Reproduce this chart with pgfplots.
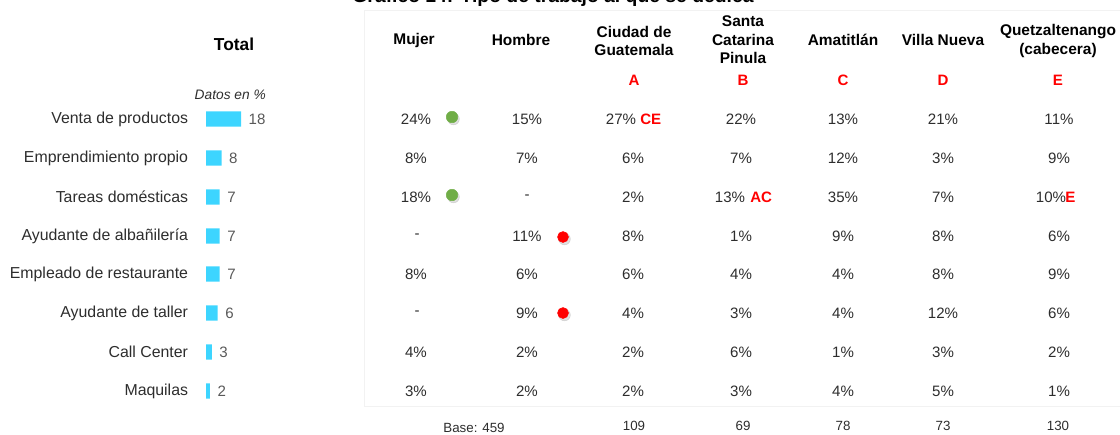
\documentclass[border=0pt]{standalone}
\usepackage{pgfplots}
\pgfplotsset{compat=1.18}
\usepackage{fontspec}
\setmainfont{Liberation Sans}
\definecolor{barc}{RGB}{61,213,255}
\definecolor{txt}{RGB}{45,45,45}
\definecolor{grn}{RGB}{112,173,71}
\definecolor{redc}{RGB}{255,0,0}
\newcommand{\vf}{\fontsize{11.3}{13}\selectfont}
\newcommand{\hf}{\bfseries\fontsize{11.6}{14}\selectfont}
\newcommand{\lf}{\bfseries\fontsize{11.3}{13}\selectfont}
\newcommand{\basef}{\fontsize{10}{12}\selectfont}
\pgfplotsset{
  /pgf/number format/assume math mode=true,
  valcol/.style={only marks, mark=none, point meta=explicit,
    nodes near coords={\pgfmathprintnumber{\pgfplotspointmeta}\%},
    every node near coord/.append style={anchor=center, font=\vf, text=txt}},
  dashcol/.style={only marks, mark=none,
    nodes near coords={-},
    every node near coord/.append style={anchor=center, font=\vf, text=txt}},
  letcol/.style={only marks, mark=none, point meta=explicit symbolic,
    nodes near coords={\pgfplotspointmeta},
    every node near coord/.append style={anchor=west, inner sep=0pt, font=\lf, text=redc}},
}
\begin{document}
\begin{tikzpicture}
\begin{axis}[name=main, at={(0,0)}, anchor=north west, scale only axis,
  width=840pt, height=326.25pt, xmin=0, xmax=1120, ymin=0, ymax=435,
  y dir=reverse, hide axis, clip=false]
\draw[gray!10] (axis cs:364,10) rectangle (axis cs:1130,406);
% title (cut at top, as in the reference)
\node[anchor=base, font=\bfseries\fontsize{14.5}{16}\selectfont] at (axis cs:553,2) {Gráfico 14: Tipo de trabajo al que se dedica};
\node[font=\bfseries\fontsize{13}{15}\selectfont, text=black] at (axis cs:234,44) {Total};
\node[anchor=east, inner sep=0pt, font=\itshape\fontsize{10.3}{12}\selectfont, text=txt] at (axis cs:266,95) {Datos en \%};
% headers
\node[font=\hf, align=center] at (axis cs:414,40) {Mujer};
\node[font=\hf, align=center] at (axis cs:521,40) {Hombre};
\node[font=\hf, align=center] at (axis cs:634,41) {Ciudad de\\Guatemala};
\node[font=\hf, align=center] at (axis cs:743,40) {Santa\\Catarina\\Pinula};
\node[font=\hf, align=center] at (axis cs:843,40) {Amatitlán};
\node[font=\hf, align=center] at (axis cs:943,40) {Villa Nueva};
\node[font=\hf, align=center] at (axis cs:1058,41) {Quetzaltenango\\(cabecera)};
\node[font=\lf, text=redc] at (axis cs:634,80) {A};
\node[font=\lf, text=redc] at (axis cs:743,80) {B};
\node[font=\lf, text=redc] at (axis cs:843,80) {C};
\node[font=\lf, text=redc] at (axis cs:943,80) {D};
\node[font=\lf, text=redc] at (axis cs:1058,80) {E};
% base row
\node[font=\basef, text=txt] at (axis cs:474,428) {Base: 459};
\node[font=\basef, text=txt] at (axis cs:634,426) {109};
\node[font=\basef, text=txt] at (axis cs:743,426) {69};
\node[font=\basef, text=txt] at (axis cs:843,426) {78};
\node[font=\basef, text=txt] at (axis cs:943,426) {73};
\node[font=\basef, text=txt] at (axis cs:1058,426) {130};
% Mujer
\addplot[valcol] table[meta index=2]{
416 119 24
416 158 8
416 197 18
416 274 8
416 352 4
416 391 3
};
\addplot[dashcol] table{
417 236
417 313
};
% Hombre
\addplot[valcol] table[meta index=2]{
527 119 15
527 158 7
527 236 11
527 274 6
527 313 9
527 352 2
527 391 2
};
\addplot[dashcol] table{
527 197
};
% Ciudad de Guatemala
\addplot[valcol] table[meta index=2]{
621 119 27
633 158 6
633 197 2
633 236 8
633 274 6
633 313 4
633 352 2
633 391 2
};
% Santa Catarina Pinula
\addplot[valcol] table[meta index=2]{
741 119 22
741 158 7
730 197 13
741 236 1
741 274 4
741 313 3
741 352 6
741 391 3
};
% Amatitlan
\addplot[valcol] table[meta index=2]{
843 119 13
843 158 12
843 197 35
843 236 9
843 274 4
843 313 4
843 352 1
843 391 4
};
% Villa Nueva
\addplot[valcol] table[meta index=2]{
943 119 21
943 158 3
943 197 7
943 236 8
943 274 8
943 313 12
943 352 3
943 391 5
};
% Quetzaltenango
\addplot[valcol] table[meta index=2]{
1059 119 11
1059 158 9
1051 197 10
1059 236 6
1059 274 9
1059 313 6
1059 352 2
1059 391 1
};
% significance letters
\addplot[letcol] table[header=false, meta index=2]{
640 119 CE
750 197 AC
1065 197 E
};
% dots
\addplot[only marks, mark=*, mark size=4.4pt, black, opacity=0.12] coordinates {(453.5,119) (453.5,197) (564.5,239) (564.5,315)};
\addplot[only marks, mark=*, mark size=4.3pt, grn] coordinates {(452,117) (452,195)};
\addplot[only marks, mark=*, mark size=4.1pt, redc] coordinates {(563,237) (563,313)};
\end{axis}
\begin{axis}[at={(154.5pt,0)}, anchor=north west, scale only axis,
  width=685.5pt, height=326.25pt, xmin=0, xmax=468.7, ymin=0, ymax=435,
  y dir=reverse, xbar, bar width=11.5pt,
  axis line style={draw=none}, tick style={draw=none}, xtick=\empty,
  ytick={119,158,197,236,274,313,352,391},
  yticklabels={Venta de productos, Emprendimiento propio, Tareas domésticas, Ayudante de albañilería, Empleado de restaurante, Ayudante de taller, Call Center, Maquilas},
  yticklabel style={anchor=east, inner sep=0pt, xshift=-9pt, font=\fontsize{11.9}{13}\selectfont, text=txt},
  nodes near coords,
  nodes near coords style={anchor=west, inner sep=0pt, xshift=5.5pt, font=\fontsize{11.3}{13}\selectfont, text=black!65},
  clip=false]
\addplot[fill=barc, draw=none] coordinates {(18,119) (8,158) (7,197) (7,236) (7,274) (6,313) (3,352) (2,391)};
\end{axis}
\pgfresetboundingbox
\path (main.north west) rectangle (main.south east);
\end{tikzpicture}
\end{document}
